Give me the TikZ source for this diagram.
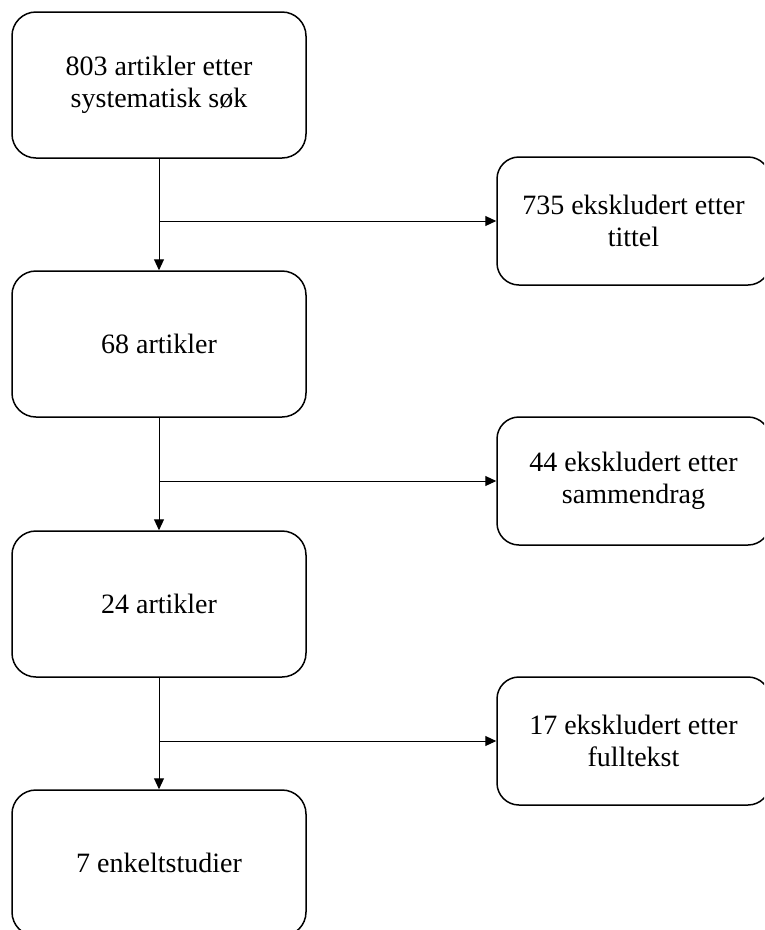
\documentclass[tikz,border=0pt]{standalone}
\usepackage{fontspec}
\setmainfont{Liberation Serif}
\usetikzlibrary{arrows.meta}
\begin{document}
\begin{tikzpicture}[x=1pt,y=-1pt,
  mainbox/.style={draw=black, line width=1.5pt, rounded corners=24pt, minimum width=294pt, minimum height=146pt, align=center, font=\fontsize{28}{32}\selectfont, inner sep=0pt},
  sidebox/.style={draw=black, line width=1.5pt, rounded corners=22pt, minimum width=273pt, minimum height=128pt, align=center, font=\fontsize{28}{32}\selectfont, inner sep=0pt},
  conn/.style={line width=1pt, -{Triangle[length=11pt,width=10pt]}}]
\useasboundingbox (0,0) rectangle (764,930);
\clip (0,0) rectangle (764,930);
\node[mainbox] (L1) at (159,85) {803 artikler etter\\systematisk søk};
\node[mainbox] (L2) at (159,344) {68 artikler};
\node[mainbox] (L3) at (159,604) {24 artikler};
\node[mainbox] (L4) at (159,863) {7 enkeltstudier};
\node[sidebox] (R1) at (633.5,221) {735 ekskludert etter\\tittel};
\node[sidebox] (R2) at (633.5,481) {44 ekskludert etter\\sammendrag};
\node[sidebox] (R3) at (633.5,741) {17 ekskludert etter\\fulltekst};
\coordinate (b1) at (L1.south |- R1.west);
\coordinate (b2) at (L2.south |- R2.west);
\coordinate (b3) at (L3.south |- R3.west);
\draw[conn] (L1.south) -- (L2.north);
\draw[conn] (L2.south) -- (L3.north);
\draw[conn] (L3.south) -- (L4.north);
\draw[conn] (b1) -- (R1.west);
\draw[conn] (b2) -- (R2.west);
\draw[conn] (b3) -- (R3.west);
\end{tikzpicture}
\end{document}
